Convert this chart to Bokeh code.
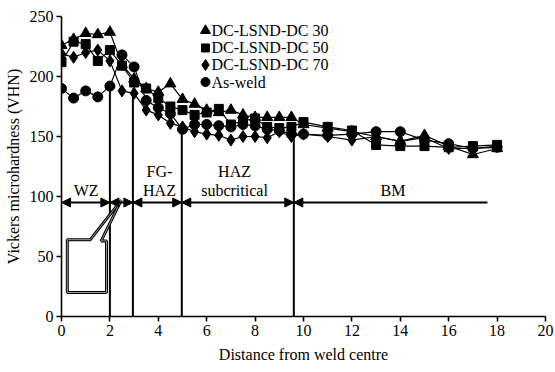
from bokeh.plotting import figure
from bokeh.models import Arrow, NormalHead, FixedTicker
from bokeh.core.properties import value
from bokeh.embed import file_html
from bokeh.resources import INLINE

# ---- data ----
distance = [0, 0.5, 1, 1.5, 2, 2.5, 3, 3.5, 4, 4.5, 5, 5.5, 6, 6.5, 7, 7.5, 8, 8.5, 9, 9.5,
            10, 11, 12, 13, 14, 15, 16, 17, 18]
dc30 = [226, 231, 236, 235, 237, 210, 198, 190, 187, 194, 181, 177, 172, 170, 172, 168, 166, 166, 166, 166,
        160, 157, 154, 150, 146, 151, 142, 135, 140]
dc50 = [212, 229, 227, 213, 222, 209, 195, 190, 182, 175, 172, 168, 170, 173, 160, 163, 165, 158, 157, 158,
        162, 158, 155, 143, 142, 142, 141, 142, 143]
dc70 = [219, 216, 220, 222, 213, 188, 186, 172, 168, 161, 158, 154, 152, 151, 147, 150, 150, 149, 154, 150,
        152, 150, 147, 150, 146, 149, 140, 140, 142]
asweld = [190, 182, 188, 183, 192, 218, 208, 180, 174, 169, 156, 160, 160, 159, 158, 160, 159, 156, 155, 152,
          152, 151, 152, 154, 154, 147, 144, 140, 141]

series_names = ["DC-LSND-DC 30", "DC-LSND-DC 50", "DC-LSND-DC 70", "As-weld"]
series_values = [dc30, dc50, dc70, asweld]
series_markers = ["triangle", "square", "diamond", "circle"]
series_sizes = [11, 9, 12, 10]

x_ticks = [0, 2, 4, 6, 8, 10, 12, 14, 16, 18, 20]
y_ticks = [0, 50, 100, 150, 200, 250]

# zone boundaries and labels
boundaries = [2.0, 2.95, 4.97, 9.6]
boundary_tops = [195, 190, 156, 150]
bm_end = 17.6
arrow_level = 95
zone_labels = ["WZ", "FG-", "HAZ", "HAZ", "subcritical", "BM"]
zone_label_x = [1.02, 4.05, 4.05, 7.15, 7.15, 13.7]
zone_label_y = [105, 121, 105, 121, 105, 105]

# callout box outline
callout_x = [0.24, 1.19, 2.47, 1.64, 1.86, 1.86, 0.24]
callout_y = [64, 64, 97, 63, 63, 20, 20]

# legend placement (data units)
legend_marker_x = 5.95
legend_text_x = 6.2
legend_rows_y = [238.3, 223.8, 209.6, 195.4]

FONT = "Liberation Serif"

p = figure(width=555, height=372, x_range=(0, 20), y_range=(0, 250),
           min_border_left=61, min_border_top=16, min_border_right=10, min_border_bottom=56,
           output_backend="svg", toolbar_location=None, outline_line_color=None)
p.xgrid.visible = False
p.ygrid.visible = False

for ax in (p.xaxis[0], p.yaxis[0]):
    ax.axis_line_width = 1.6
    ax.major_tick_line_width = 1.6
    ax.major_tick_in = 0
    ax.major_tick_out = 5
    ax.minor_tick_line_color = None
    ax.major_label_text_font = FONT
    ax.major_label_text_font_size = "16px"
    ax.major_label_text_color = "black"
    ax.axis_label_text_font = FONT
    ax.axis_label_text_font_size = "16px"
    ax.axis_label_text_font_style = "normal"
    ax.axis_label_text_color = "black"
    ax.axis_line_color = "black"
    ax.major_tick_line_color = "black"

p.xaxis.ticker = FixedTicker(ticks=x_ticks)
p.yaxis.ticker = FixedTicker(ticks=y_ticks)
p.xaxis.axis_label = "Distance from weld centre"
p.yaxis.axis_label = "Vickers microhardness (VHN)"
p.xaxis.major_label_standoff = 3
p.xaxis.axis_label_standoff = 7
p.yaxis.major_label_standoff = 3
p.yaxis.axis_label_standoff = 5

# zone boundary lines
p.segment(x0=boundaries, y0=[0] * len(boundaries), x1=boundaries, y1=boundary_tops,
          line_color="black", line_width=2)

# arrows
zone_edges = [0] + boundaries
for a, b in zip(zone_edges[:-1], zone_edges[1:]):
    p.add_layout(Arrow(x_start=a, y_start=arrow_level, x_end=b, y_end=arrow_level,
                       start=NormalHead(size=9, fill_color="black", line_color="black"),
                       end=NormalHead(size=9, fill_color="black", line_color="black"),
                       line_width=2, line_color="black"))
p.add_layout(Arrow(x_start=boundaries[-1], y_start=arrow_level, x_end=bm_end, y_end=arrow_level,
                   start=NormalHead(size=9, fill_color="black", line_color="black"),
                   end=None, line_width=2, line_color="black"))

p.text(x=zone_label_x, y=zone_label_y, text=zone_labels, text_font=value(FONT),
       text_font_size="16px", text_align="center", text_baseline="middle", text_color="black")

# callout
p.patch(callout_x, callout_y, fill_color="white", line_color="black", line_width=3)
p.patch(callout_x, callout_y, fill_alpha=0, line_color="#9a9a9a", line_width=1)

for name, vals, mk, sz in zip(series_names, series_values, series_markers, series_sizes):
    p.line(distance, vals, line_color="black", line_width=1.2)
    p.scatter(distance, vals, marker=mk, size=sz, fill_color="black", line_color="black")

# legend (markers + labels)
p.scatter([legend_marker_x] * 4, legend_rows_y, marker=series_markers, size=[s - 1 for s in series_sizes],
          fill_color="black", line_color="black")
p.text(x=[legend_text_x] * 4, y=legend_rows_y, text=series_names, text_font=value(FONT),
       text_font_size="16px", text_align="left", text_baseline="middle", text_color="black")

open("out.html", "w").write(file_html(p, INLINE))
